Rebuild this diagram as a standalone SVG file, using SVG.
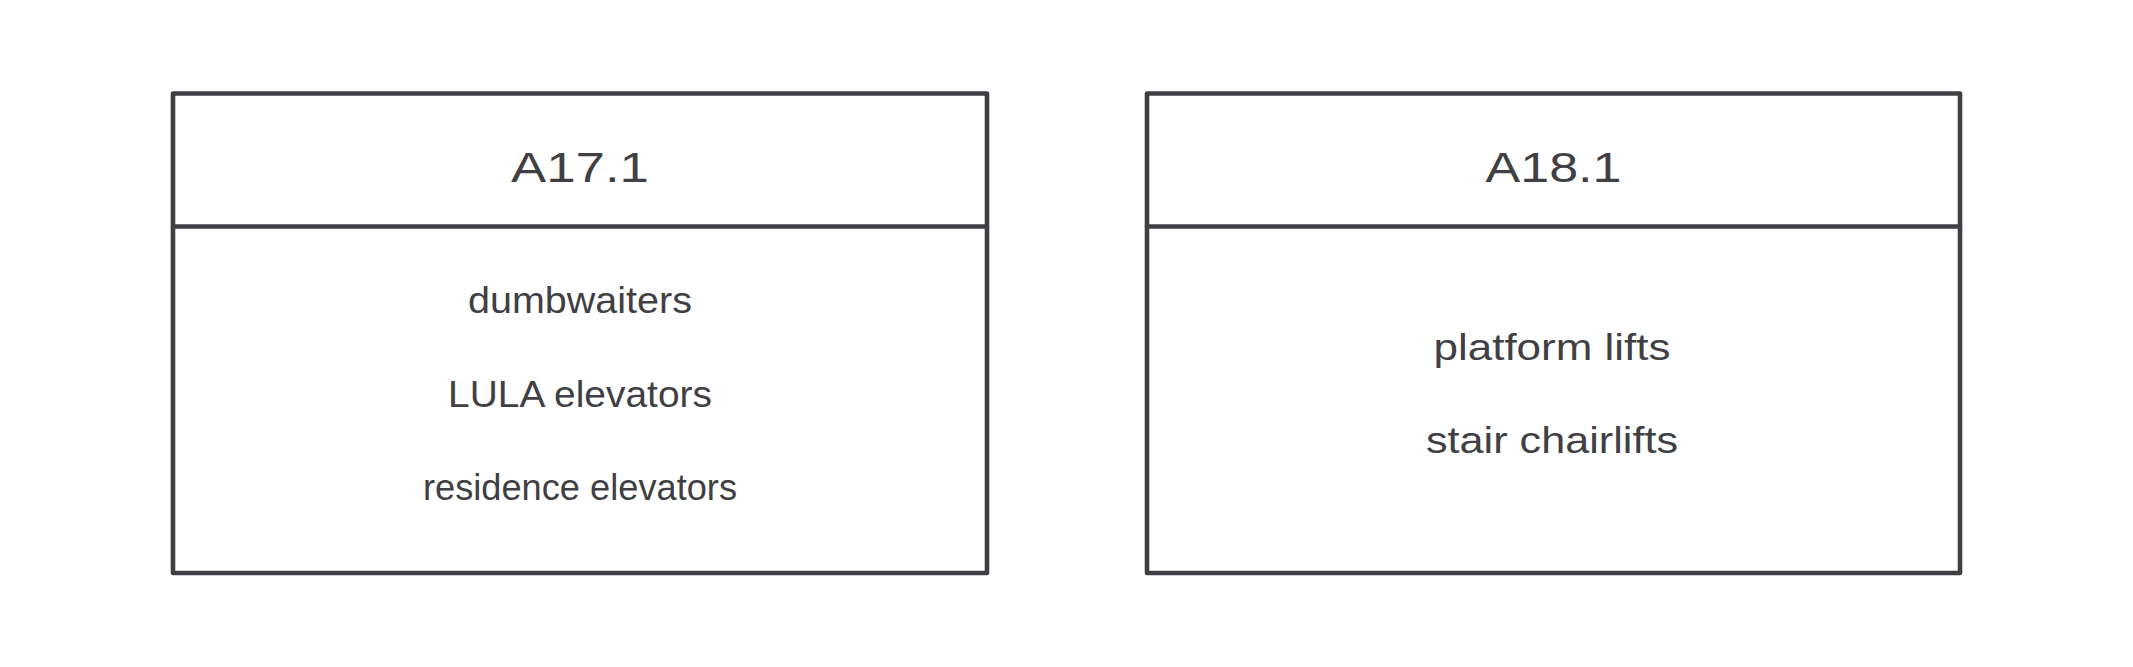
<svg xmlns="http://www.w3.org/2000/svg" width="2133" height="667" viewBox="0 0 2133 667">
  <style>
    .box { fill: #ffffff; stroke: #404044; stroke-width: 4.6; stroke-linejoin: round; stroke-linecap: round; }
    .div { stroke: #404044; stroke-width: 4.6; stroke-linecap: round; fill: none; }
    .title { font-family: "Liberation Sans", "DejaVu Sans", sans-serif; font-size: 42px; fill: #404044; text-anchor: middle; }
    .item { font-family: "Liberation Sans", "DejaVu Sans", sans-serif; font-size: 37px; fill: #404044; text-anchor: middle; }
  </style>
  <rect x="0" y="0" width="2133" height="667" fill="#ffffff"/>
  <g id="node-a17">
    <rect class="box" x="173" y="93.5" width="814" height="479.5"/>
    <line class="div" x1="173" y1="226.5" x2="987" y2="226.5"/>
    <text class="title" x="580" y="182" textLength="138" lengthAdjust="spacingAndGlyphs">A17.1</text>
    <text class="item" x="580" y="313" textLength="224" lengthAdjust="spacingAndGlyphs">dumbwaiters</text>
    <text class="item" x="580" y="407" textLength="264" lengthAdjust="spacingAndGlyphs">LULA elevators</text>
    <text class="item" x="580" y="500" textLength="314" lengthAdjust="spacingAndGlyphs">residence elevators</text>
  </g>
  <g id="node-a18">
    <rect class="box" x="1147" y="93.5" width="813" height="479.5"/>
    <line class="div" x1="1147" y1="226.5" x2="1960" y2="226.5"/>
    <text class="title" x="1553.5" y="182" textLength="136" lengthAdjust="spacingAndGlyphs">A18.1</text>
    <text class="item" x="1552" y="360" textLength="237" lengthAdjust="spacingAndGlyphs">platform lifts</text>
    <text class="item" x="1552" y="453" textLength="252" lengthAdjust="spacingAndGlyphs">stair chairlifts</text>
  </g>
  <g id="connectors"/>
</svg>
